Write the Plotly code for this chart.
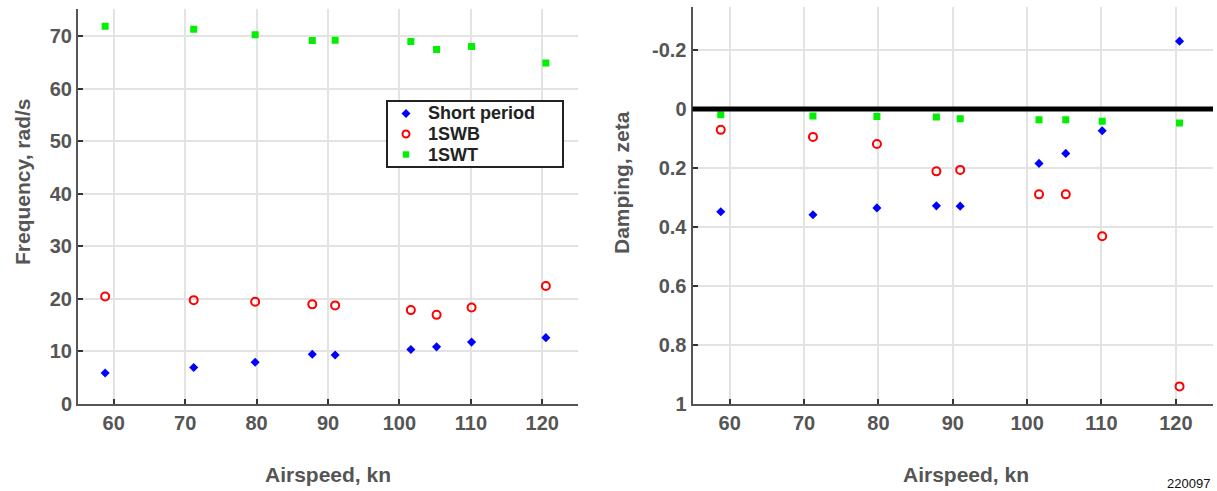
import plotly.graph_objects as go

# ---- data ----
airspeed = [58.8, 71.2, 79.8, 87.8, 91.0, 101.6, 105.2, 110.1, 120.5]
freq_short = [5.8, 6.85, 7.85, 9.4, 9.25, 10.3, 10.8, 11.7, 12.55]
freq_1swb = [20.4, 19.7, 19.4, 18.9, 18.7, 17.8, 16.9, 18.3, 22.4]
freq_1swt = [71.9, 71.35, 70.3, 69.2, 69.25, 69.0, 67.5, 68.05, 64.9]
damp_short = [0.349, 0.359, 0.336, 0.329, 0.330, 0.185, 0.151, 0.074, -0.230]
damp_1swb = [0.071, 0.095, 0.119, 0.212, 0.207, 0.290, 0.290, 0.432, 0.942]
damp_1swt = [0.020, 0.024, 0.026, 0.027, 0.033, 0.037, 0.037, 0.042, 0.048]

x_ticks = [60, 70, 80, 90, 100, 110, 120]
freq_ticks = [0, 10, 20, 30, 40, 50, 60, 70]
damp_ticks = [-0.2, 0, 0.2, 0.4, 0.6, 0.8, 1]
damp_tick_text = ["-0.2", "0", "0.2", "0.4", "0.6", "0.8", "1"]

series_names = ["Short period", "1SWB", "1SWT"]

GREY = "#555555"
GRID = "#e3e3e3"
FONT = "Liberation Sans, Arial, sans-serif"
BLUE, RED, GREEN = "#0000ff", "#ff0000", "#00f000"

blue_m = dict(symbol="diamond", size=7, color=BLUE)
red_m = dict(symbol="circle-open", size=8, color=RED, line=dict(width=2, color=RED))
green_m = dict(symbol="square", size=7, color=GREEN)

fig = go.Figure()

fig.add_trace(go.Scatter(x=airspeed, y=freq_short, mode="markers", name=series_names[0],
                         marker=blue_m, xaxis="x", yaxis="y"))
fig.add_trace(go.Scatter(x=airspeed, y=freq_1swb, mode="markers", name=series_names[1],
                         marker=red_m, xaxis="x", yaxis="y"))
fig.add_trace(go.Scatter(x=airspeed, y=freq_1swt, mode="markers", name=series_names[2],
                         marker=green_m, xaxis="x", yaxis="y"))
fig.add_trace(go.Scatter(x=airspeed, y=damp_short, mode="markers", name=series_names[0],
                         marker=blue_m, xaxis="x2", yaxis="y2"))
fig.add_trace(go.Scatter(x=airspeed, y=damp_1swb, mode="markers", name=series_names[1],
                         marker=red_m, xaxis="x2", yaxis="y2"))
fig.add_trace(go.Scatter(x=airspeed, y=damp_1swt, mode="markers", name=series_names[2],
                         marker=green_m, xaxis="x2", yaxis="y2"))

W, H = 1217, 491

def px_x(p):
    return p / W

def px_y(p):
    return 1 - p / H

tickfont = dict(family=FONT, size=20, color=GREY, weight="bold")
axis_common = dict(showline=True, linecolor=GREY, linewidth=2, mirror=False,
                   showgrid=True, gridcolor=GRID, gridwidth=1.5,
                   ticks="inside", ticklen=5, tickwidth=1.5, tickcolor="#333333",
                   tickfont=tickfont, zeroline=False, automargin=False)

fig.update_layout(
    width=W, height=H, autosize=False,
    margin=dict(l=0, r=0, t=0, b=0, pad=0, autoexpand=False),
    paper_bgcolor="white", plot_bgcolor="white",
    font=dict(family=FONT),
    xaxis=dict(domain=[px_x(78), px_x(578)], range=[55, 125], tickvals=x_ticks,
               anchor="y", **axis_common),
    yaxis=dict(domain=[px_y(403.5), px_y(9)], range=[0, 75.2], tickvals=freq_ticks,
               anchor="x", **axis_common),
    xaxis2=dict(domain=[px_x(692.5), px_x(1213)], range=[55, 125], tickvals=x_ticks,
                anchor="y2", **axis_common),
    yaxis2=dict(domain=[px_y(403.5), px_y(7)], range=[1, -0.346], tickvals=damp_ticks,
                ticktext=damp_tick_text, anchor="x2", **axis_common),
    showlegend=False,
)

# thick zero line on damping plot
fig.add_shape(type="line", xref="x2 domain", yref="y2", x0=0, x1=1, y0=0, y1=0,
              line=dict(color="black", width=5))

# legend box (drawn manually to reproduce the compact layout)
LEG_L, LEG_R, LEG_T, LEG_B = 387, 563, 101, 167
fig.add_shape(type="rect", xref="paper", yref="paper",
              x0=px_x(LEG_L), x1=px_x(LEG_R), y0=px_y(LEG_B), y1=px_y(LEG_T),
              line=dict(color="#222222", width=2), fillcolor="white", layer="above")
row_y = [113.5, 134, 154.5]
key_x = 406
# diamond key
fig.add_shape(type="path", xref="paper", yref="paper", layer="above",
              path="M {a},{b} L {c},{d} L {a},{e} L {f},{d} Z".format(
                  a=px_x(key_x), b=px_y(row_y[0] - 4.5), c=px_x(key_x + 4.5),
                  d=px_y(row_y[0]), e=px_y(row_y[0] + 4.5), f=px_x(key_x - 4.5)),
              fillcolor=BLUE, line=dict(width=0))
# open circle key
fig.add_shape(type="circle", xref="paper", yref="paper", layer="above",
              x0=px_x(key_x - 3.5), x1=px_x(key_x + 3.5),
              y0=px_y(row_y[1] + 3.5), y1=px_y(row_y[1] - 3.5),
              line=dict(color=RED, width=2))
# square key
fig.add_shape(type="rect", xref="paper", yref="paper", layer="above",
              x0=px_x(key_x - 3.2), x1=px_x(key_x + 3.2),
              y0=px_y(row_y[2] + 3.2), y1=px_y(row_y[2] - 3.2),
              fillcolor=GREEN, line=dict(width=0))
for name, ry in zip(series_names, row_y):
    fig.add_annotation(text="<b>" + name + "</b>", xref="paper", yref="paper",
                       x=px_x(427), y=px_y(ry), xanchor="left", yanchor="middle",
                       borderpad=0, showarrow=False,
                       font=dict(family=FONT, size=18, color="#222222"))

title_font = dict(family=FONT, size=21, color=GREY)
fig.add_annotation(text="<b>Frequency, rad/s</b>", textangle=-90, xref="paper", yref="paper",
                   x=px_x(22), y=px_y(182), xanchor="center", yanchor="middle",
                   showarrow=False, font=title_font)
fig.add_annotation(text="<b>Damping, zeta</b>", textangle=-90, xref="paper", yref="paper",
                   x=px_x(621), y=px_y(183), xanchor="center", yanchor="middle",
                   showarrow=False, font=title_font)
fig.add_annotation(text="<b>Airspeed, kn</b>", xref="paper", yref="paper",
                   x=px_x(328), y=px_y(474), xanchor="center", yanchor="middle",
                   showarrow=False, font=title_font)
fig.add_annotation(text="<b>Airspeed, kn</b>", xref="paper", yref="paper",
                   x=px_x(966), y=px_y(474), xanchor="center", yanchor="middle",
                   showarrow=False, font=title_font)
fig.add_annotation(text="220097", xref="paper", yref="paper",
                   x=px_x(1212), y=px_y(483), xanchor="right", yanchor="middle",
                   showarrow=False, font=dict(family=FONT, size=13, color="#111111"))

fig.write_html("out.html")
